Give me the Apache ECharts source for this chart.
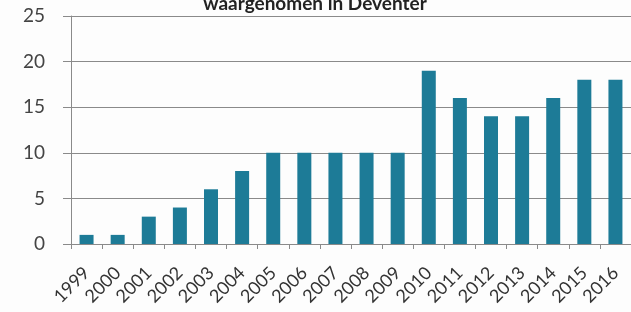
<!DOCTYPE html>
<html lang="nl">
<head>
    <meta charset="UTF-8">
    <title>waargenomen in Deventer</title>
    <script src="https://cdn.jsdelivr.net/npm/echarts@6/dist/echarts.min.js"></script>
    <style>
        body { margin: 0; background: #fdfdfd; }
        #chart { width: 631px; height: 312px; }
    </style>
</head>
<body>
    <div id="chart"></div>
    <script>
        // jaren en aantallen
        var jaren = ['1999', '2000', '2001', '2002', '2003', '2004', '2005', '2006', '2007',
            '2008', '2009', '2010', '2011', '2012', '2013', '2014', '2015', '2016'];
        var aantallen = [1, 1, 3, 4, 6, 8, 10, 10, 10, 10, 10, 19, 16, 14, 14, 16, 18, 18];
        var titel = 'waargenomen in Deventer';

        var myChart = echarts.init(document.getElementById('chart'));
        var option = {
            backgroundColor: '#fdfdfd',
            animation: false,
            title: {
                text: titel,
                left: 310,
                textAlign: 'center',
                top: -11,
                textStyle: { fontFamily: 'Lato', fontWeight: 'bold', fontSize: 19, color: '#222' }
            },
            grid: { left: 71, top: 16, width: 567, height: 228 },
            xAxis: {
                type: 'category',
                data: jaren,
                axisLine: { lineStyle: { color: '#8a8a8a', width: 1 } },
                axisTick: { show: true, length: 5, lineStyle: { color: '#8a8a8a' } },
                axisLabel: {
                    rotate: 45,
                    interval: 0,
                    margin: 26,
                    fontFamily: 'Lato',
                    fontSize: 18,
                    color: '#333'
                }
            },
            yAxis: {
                type: 'value',
                min: 0,
                max: 25,
                interval: 5,
                axisLine: { show: true, lineStyle: { color: '#8a8a8a' } },
                axisTick: { show: true, length: 8, lineStyle: { color: '#8a8a8a' } },
                axisLabel: { margin: 26, fontFamily: 'Lato', fontSize: 19, color: '#444' },
                splitLine: { lineStyle: { color: '#8a8a8a', width: 1 } }
            },
            series: [{
                type: 'bar',
                data: aantallen,
                barWidth: 14,
                itemStyle: { color: '#1d7b97' }
            }]
        };
        myChart.setOption(option);
    </script>
</body>
</html>
